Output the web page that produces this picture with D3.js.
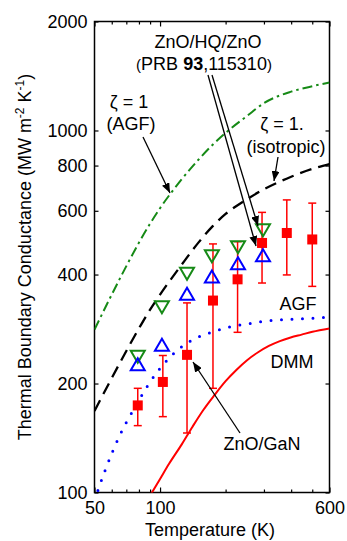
<!DOCTYPE html>
<html>
<head>
<meta charset="utf-8">
<script src="https://cdn.jsdelivr.net/npm/d3@7"></script>
<style>
  body { margin: 0; background: #fff; }
  svg text { font-family: "Liberation Sans", Arial, sans-serif; }
</style>
</head>
<body>
<div id="chart"></div>
<script>
// model curves (temperature K, conductance MW m^-2 K^-1)
var zetaAgfT = [50, 60, 70, 80, 90, 100, 125, 150, 175, 200, 250, 300, 400, 500, 600];
var zetaAgfG = [282, 352, 422, 490, 553, 610, 730, 830, 915, 985, 1095, 1190, 1280, 1325, 1357];

var zetaIsoT = [50, 60, 70, 80, 90, 100, 125, 150, 175, 200, 250, 300, 400, 500, 600];
var zetaIsoG = [168, 207, 246, 284, 320, 352, 424, 490, 545, 588, 645, 688, 745, 783, 808];

var agfT = [50, 55, 60, 65, 70, 80, 90, 100, 110, 125, 150, 175, 200, 250, 300, 400, 500, 600];
var agfG = [95, 112, 128, 143, 156, 180, 202, 220, 235, 252, 269, 278, 285, 292, 297, 301, 303, 305];

var dmmT = [90, 100, 110, 126, 141, 158, 178, 200, 224, 251, 282, 316, 355, 398, 447, 501, 600];
var dmmG = [98, 109, 120, 136, 152, 169, 186, 203, 218, 232, 244, 254, 262, 268, 273, 278, 284];

// measurements
var ganT = [79, 103, 133, 175, 227, 294, 382, 500];
var ganG = [174, 202, 240, 339, 388, 489, 521, 500];
var ganLo = [153, 162, 146, 194, 277, 379, 399, 371];
var ganHi = [194, 239, 334, 486, 493, 594, 643, 630];

var hqT = [79, 102, 133, 173, 228, 297];
var hqUpG = [226, 256, 354, 395, 430, 452];
var hqDownG = [237, 325, 402, 449, 476, 530];

// ticks
var xLabelTicks = [50, 100, 600];
var xMinorTicks = [60, 70, 80, 90, 200, 300, 400, 500];
var yTicks = [100, 200, 400, 600, 800, 1000, 2000];

function init() {
  var w = 347, h = 541;
  var left = 94.5, right = 329.5, top = 21.5, bottom = 492.5;
  var green = "#168a16";

  var svg = d3.select("#chart").append("svg")
    .attr("width", w).attr("height", h);

  var x = d3.scaleLog().domain([50, 600]).range([left, right]);
  var y = d3.scaleLog().domain([100, 2000]).range([bottom, top]);

  var defs = svg.append("defs");
  defs.append("clipPath").attr("id", "plot")
    .append("rect").attr("x", left).attr("y", top)
    .attr("width", right - left).attr("height", bottom - top);
  defs.append("marker")
    .attr("id", "arrow")
    .attr("markerUnits", "userSpaceOnUse")
    .attr("markerWidth", 10).attr("markerHeight", 8)
    .attr("refX", 10).attr("refY", 4)
    .attr("orient", "auto")
    .append("path").attr("d", "M0,0L10,4L0,8Z").attr("fill", "#000");

  // axes
  function strip(g) {
    g.select(".domain").remove();
    g.selectAll(".tick line").attr("stroke", "#000").attr("stroke-width", 1.2);
    g.selectAll("text").attr("font-size", "18px").attr("fill", "#000")
      .attr("font-family", "'Liberation Sans', Arial, sans-serif");
  }

  svg.append("g").attr("transform", "translate(0," + bottom + ")")
    .call(d3.axisBottom(x).tickValues(xMinorTicks).tickSize(-3).tickFormat(""))
    .call(strip);
  svg.append("g").attr("transform", "translate(0," + bottom + ")")
    .call(d3.axisBottom(x).tickValues(xLabelTicks).tickSize(-5).tickPadding(9).tickFormat(d3.format("d")))
    .call(strip);
  svg.append("g").attr("transform", "translate(0," + top + ")")
    .call(d3.axisTop(x).tickValues(xMinorTicks).tickSize(-3).tickFormat(""))
    .call(strip);
  svg.append("g").attr("transform", "translate(0," + top + ")")
    .call(d3.axisTop(x).tickValues(xLabelTicks).tickSize(-5).tickFormat(""))
    .call(strip);
  svg.append("g").attr("transform", "translate(" + left + ",0)")
    .call(d3.axisLeft(y).tickValues(yTicks).tickSize(-4).tickPadding(7).tickFormat(d3.format("d")))
    .call(strip);
  svg.append("g").attr("transform", "translate(" + right + ",0)")
    .call(d3.axisRight(y).tickValues(yTicks).tickSize(-4).tickFormat(""))
    .call(strip);

  svg.append("rect")
    .attr("x", left).attr("y", top)
    .attr("width", right - left).attr("height", bottom - top)
    .attr("fill", "none").attr("stroke", "#000").attr("stroke-width", 1.5);

  // curves
  var curves = svg.append("g").attr("clip-path", "url(#plot)");
  function drawCurve(ts, gs, color, dash, width) {
    var pts = ts.map(function(t, i) { return [t, gs[i]]; });
    curves.append("path")
      .datum(pts)
      .attr("d", d3.line()
        .x(function(d) { return x(d[0]); })
        .y(function(d) { return y(d[1]); })
        .curve(d3.curveMonotoneX))
      .attr("fill", "none")
      .attr("stroke", color)
      .attr("stroke-width", width)
      .attr("stroke-dasharray", dash)
      .attr("stroke-linecap", dash && dash.indexOf("0 ") === 0 ? "round" : "butt");
  }
  drawCurve(zetaAgfT, zetaAgfG, green, "10 4 2.5 4", 2);
  drawCurve(zetaIsoT, zetaIsoG, "#000", "12 7", 2.3);
  drawCurve(agfT, agfG, "#0000ff", "0 10.5", 3);
  drawCurve(dmmT, dmmG, "#ff0000", null, 2);

  // ZnO/GaN error bars and squares
  var gan = ganT.map(function(t, i) {
    return { t: t, g: ganG[i], lo: ganLo[i], hi: ganHi[i] };
  });
  var bars = svg.append("g").attr("stroke", "#ff0000").attr("stroke-width", 1.5);
  bars.selectAll(".stem").data(gan).enter().append("line")
    .attr("x1", function(d) { return x(d.t); })
    .attr("x2", function(d) { return x(d.t); })
    .attr("y1", function(d) { return y(d.lo); })
    .attr("y2", function(d) { return y(d.hi); });
  ["lo", "hi"].forEach(function(k) {
    bars.selectAll(".cap-" + k).data(gan).enter().append("line")
      .attr("x1", function(d) { return x(d.t) - 4; })
      .attr("x2", function(d) { return x(d.t) + 4; })
      .attr("y1", function(d) { return y(d[k]); })
      .attr("y2", function(d) { return y(d[k]); });
  });
  svg.selectAll(".sq").data(gan).enter().append("rect")
    .attr("x", function(d) { return x(d.t) - 5; })
    .attr("y", function(d) { return y(d.g) - 5; })
    .attr("width", 10).attr("height", 10)
    .attr("fill", "#ff0000");

  // ZnO/HQ/ZnO triangles
  var tri = 7, triH = 6;
  svg.selectAll(".down").data(hqT).enter().append("path")
    .attr("transform", function(d, i) { return "translate(" + x(d) + "," + y(hqDownG[i]) + ")"; })
    .attr("d", "M" + (-tri) + "," + (-triH) + "L" + tri + "," + (-triH) + "L0," + triH + "Z")
    .attr("fill", "none").attr("stroke", green).attr("stroke-width", 2);
  svg.selectAll(".up").data(hqT).enter().append("path")
    .attr("transform", function(d, i) { return "translate(" + x(d) + "," + y(hqUpG[i]) + ")"; })
    .attr("d", "M" + (-tri) + "," + triH + "L" + tri + "," + triH + "L0," + (-triH) + "Z")
    .attr("fill", "none").attr("stroke", "#0000ff").attr("stroke-width", 2);

  // annotations
  function label(tx, ty, str, anchor) {
    return svg.append("text").attr("x", tx).attr("y", ty)
      .attr("text-anchor", anchor || "middle")
      .attr("font-size", "18px").attr("fill", "#000").text(str);
  }
  function arrow(x1, y1, x2, y2) {
    svg.append("line").attr("x1", x1).attr("y1", y1).attr("x2", x2).attr("y2", y2)
      .attr("stroke", "#000").attr("stroke-width", 1.3)
      .attr("marker-end", "url(#arrow)");
  }

  label(208, 48, "ZnO/HQ/ZnO");
  var prb = svg.append("text").attr("x", 204).attr("y", 70)
    .attr("text-anchor", "middle").attr("font-size", "18px").attr("fill", "#000");
  prb.append("tspan").attr("font-size", "15px").text("(");
  prb.append("tspan").text("PRB ");
  prb.append("tspan").attr("font-weight", "bold").text("93");
  prb.append("tspan").text(",115310");
  prb.append("tspan").attr("font-size", "15px").text(")");
  arrow(208, 75, 256, 246);
  arrow(212, 75, 258, 226);

  label(129, 108, "\u03b6 = 1");
  label(131, 130, "(AGF)");
  arrow(143, 137, 170, 193);

  label(282, 130, "\u03b6 = 1.");
  label(286, 153, "(isotropic)");
  arrow(278, 157, 274, 181);

  label(298, 310, "AGF");
  label(292, 368, "DMM");
  label(262, 450, "ZnO/GaN");
  arrow(240, 433, 193, 362);

  // axis titles
  label((left + right) / 2 - 2, 536, "Temperature (K)");
  var yl = svg.append("text")
    .attr("transform", "translate(31," + ((top + bottom) / 2) + ") rotate(-90)")
    .attr("text-anchor", "middle").attr("font-size", "18px").attr("fill", "#000");
  yl.append("tspan").text("Thermal Boundary Conductance (MW m");
  yl.append("tspan").attr("font-size", "12px").attr("dy", -7).text("-2");
  yl.append("tspan").attr("dy", 7).text(" K");
  yl.append("tspan").attr("font-size", "12px").attr("dy", -7).text("-1");
  yl.append("tspan").attr("dy", 7).text(")");
}

window.onload = init;
</script>
</body>
</html>
